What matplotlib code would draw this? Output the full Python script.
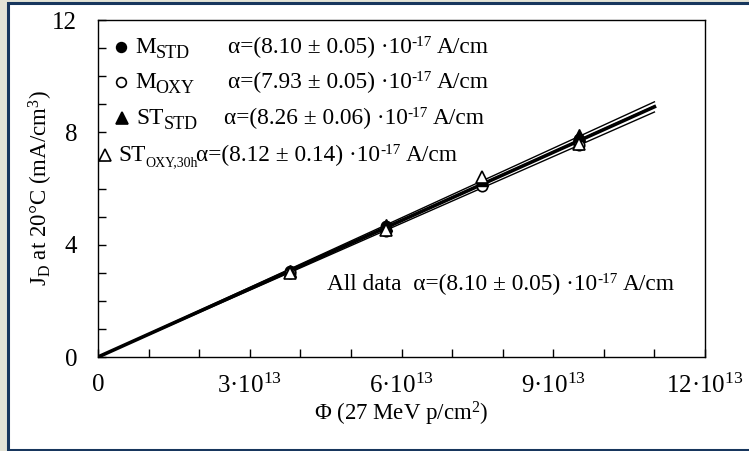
import matplotlib
matplotlib.use("Agg")
import matplotlib.pyplot as plt
import numpy as np
from matplotlib.patches import Rectangle

plt.rcParams['font.family'] = ['Liberation Serif', 'DejaVu Serif']
plt.rcParams['mathtext.fontset'] = 'custom'
plt.rcParams['mathtext.rm'] = 'Liberation Serif'
plt.rcParams['mathtext.it'] = 'Liberation Serif:italic'
plt.rcParams['mathtext.bf'] = 'Liberation Serif:bold'

# ---- data (fluence in units of 1e13 p/cm^2, J_D in mA/cm^3) ----
phi = [3.8, 5.7, 7.6, 9.5]
m_std = [3.05, 4.65, 6.20, 7.75]
m_oxy = [3.00, 4.50, 6.10, 7.55]
st_std = [3.05, 4.70, 6.30, 7.90]
st_oxy = [3.00, 4.52, 6.40, 7.60]
alpha_fits = [8.10, 7.93, 8.26, 8.12]   # 1e-17 A/cm
alpha_all = 8.10
fit_end = 11.0

legend_main = ['M', 'M', 'ST', 'ST']
legend_sub = ['STD', 'OXY', 'STD', 'OXY,30h']
legend_alpha = ['α=(8.10 ± 0.05) ·10', 'α=(7.93 ± 0.05) ·10', 'α=(8.26 ± 0.06) ·10', 'α=(8.12 ± 0.14) ·10']
exp_txt = '-17'
unit_txt = 'A/cm'
all_text = 'All data  α=(8.10 ± 0.05) ·10'
xtick_vals = [0, 3, 6, 9, 12]
xtick_labels = ['0', '3·10$^{13}$', '6·10$^{13}$', '9·10$^{13}$', '12·10$^{13}$']
ytick_vals = [0, 4, 8, 12]
ytick_labels = ['0', '4', '8', '12']

W, H = 749, 451
fig = plt.figure(figsize=(W / 100, H / 100), dpi=100)
fig.patch.set_facecolor('#e3e3d6')
fig.patches.append(Rectangle((8 / W, 1.5 / H), 750 / W, (H - 4.5) / H, transform=fig.transFigure,
                             facecolor='white', edgecolor='#17365d', lw=2.2, zorder=-10))

L, R, T, B = 98, 705, 20, 357
ax = fig.add_axes([L / W, 1 - B / H, (R - L) / W, (B - T) / H])
ax.set_zorder(5)
ax.set_xlim(0, 12)
ax.set_ylim(0, 12)

xs = np.array([0, fit_end])
for a in alpha_fits:
    ax.plot(xs, a * xs / 10.0, color='black', lw=1.0, zorder=2)
ax.plot(xs, alpha_all * xs / 10.0, color='black', lw=2.6, zorder=2)

ms = 7.5
ax.plot(phi, m_std, 'o', ms=ms, mfc='black', mec='black', zorder=3)
ax.plot(phi, m_oxy, 'o', ms=ms, mfc='white', mec='black', mew=1.2, zorder=3)
ax.plot(phi, st_std, '^', ms=ms + 1, mfc='black', mec='black', zorder=3)
ax.plot(phi, st_oxy, '^', ms=ms + 1, mfc='white', mec='black', mew=1.2, zorder=3)

ax.set_xticks(np.arange(0, 13, 1))
ax.set_xticklabels([xtick_labels[xtick_vals.index(v)] if v in xtick_vals else '' for v in range(13)])
ax.set_yticks(np.arange(0, 13, 1))
ax.set_yticklabels([ytick_labels[ytick_vals.index(v)] if v in ytick_vals else '' for v in range(13)])
ax.tick_params(direction='in', length=6, width=1, labelsize=18, colors='black')
ax.tick_params(axis='x', pad=12)
ax.tick_params(axis='y', pad=15)
for s in ax.spines.values():
    s.set_linewidth(1.0)

ax.set_xlabel('Φ (27 MeV p/cm$^{2}$)', fontsize=16.5, labelpad=1)
ax.set_ylabel(r'J$_{\mathrm{D}}$ at 20°C (mA/cm$^{3}$)', fontsize=16.5)
ax.yaxis.set_label_coords((55 - L) / (R - L), 0.5)

renderer = fig.canvas.get_renderer()

def draw_runs(x, y, parts):
    """parts: (text, fontsize, dy_px, gap_before_px); y is the baseline in pixels from top."""
    for text, fs, dy, gap in parts:
        x += gap
        t = fig.text(x / W, 1 - (y + dy) / H, text, fontsize=fs, ha='left', va='baseline', zorder=10)
        x = t.get_window_extent(renderer).x1
    return x

FS = 16.8
sub_fs = [13, 13, 13, 10]
rows_base = [53, 88, 124, 161]
mk_x = [121, 121, 122, 105]
name_x = [135, 135, 136, 118]
alpha_x = [228, 228, 224, 196]
styles = [('o', 'black', ms - 0.5), ('o', 'white', ms - 0.5), ('^', 'black', ms + 0.5), ('^', 'white', ms + 0.5)]
for i in range(4):
    m, fc, s = styles[i]
    yc = rows_base[i] - 6
    ax.plot([(mk_x[i] - L) / (R - L)], [(B - yc) / (B - T)], m, ms=s, mfc=fc, mec='black', mew=1.2,
            transform=ax.transAxes, clip_on=False, zorder=10)
    draw_runs(name_x[i], rows_base[i], [(legend_main[i], FS, 0, 0), (legend_sub[i], sub_fs[i], 5, 0)])
    draw_runs(alpha_x[i], rows_base[i], [(legend_alpha[i], FS, 0, 0), (exp_txt, 11, -7, 0),
                                          (unit_txt, FS, 0, 5)])

draw_runs(327, 290, [(all_text, FS, 0, 0), (exp_txt, 11, -7, 0), (unit_txt, FS, 0, 5)])

fig.savefig('out.png', dpi=100, facecolor=fig.get_facecolor())
